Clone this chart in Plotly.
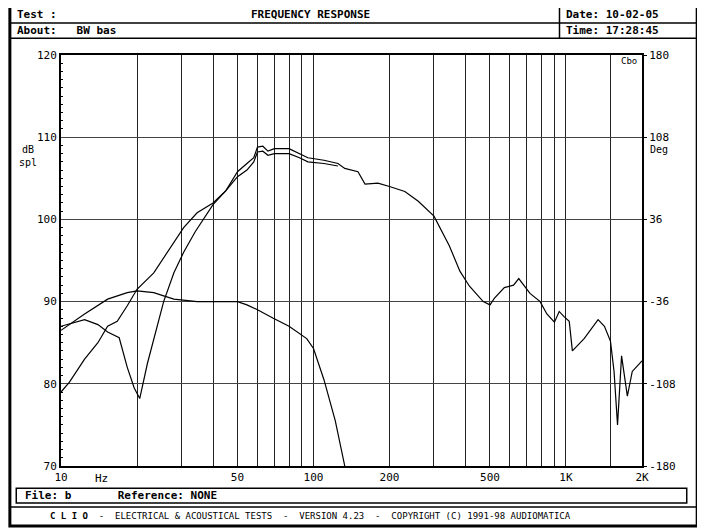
import plotly.graph_objects as go

# Curve 1: flat then falling
f1 = [10, 12.4, 15.3, 18.3, 20, 23.3, 25.5, 28, 34.6, 40, 50, 54.5, 60, 69, 80, 94, 100, 110, 122, 133]
d1 = [86.5, 88.5, 90.3, 91.1, 91.3, 91.1, 90.7, 90.3, 90.0, 90.0, 90.0, 89.6, 89.0, 88.0, 87.0, 85.5, 84.3, 80.5, 75.5, 70]
# Curve 2: dip at 20 Hz, lower of the pair
f2 = [10, 12.4, 14, 15.3, 17, 18.3, 19.5, 20.5, 22, 25.5, 28, 30.6, 34, 36.7, 40, 45, 50, 54.5, 58, 60, 63, 66, 70, 80, 88, 95, 110, 125]
d2 = [87.0, 87.8, 87.2, 86.3, 85.6, 82.0, 79.5, 78.2, 82.5, 90.0, 93.5, 96.0, 98.5, 100.0, 101.8, 103.5, 105.2, 106.0, 107.0, 108.2, 108.3, 107.8, 108.0, 108.0, 107.5, 107.0, 106.8, 106.5]
# Curve 3: starts at 79, upper of the pair, continues as single line
f3 = [10, 10.8, 12.4, 14, 15.3, 16.7, 18.3, 20, 23.3, 27, 30.6, 34.6, 40, 45, 50, 54.5, 58, 60, 63, 66, 70, 80, 88, 95, 110, 125,
      133, 150, 160, 180, 200, 230, 260, 300, 345, 380, 414, 470, 500, 520, 570, 620, 650, 720, 790, 840, 900, 940, 980,
      1030, 1060, 1180, 1340, 1420, 1500, 1550, 1600, 1660, 1750, 1830, 2000]
d3 = [79.0, 80.2, 83.0, 85.0, 87.0, 87.6, 89.5, 91.5, 93.5, 96.5, 99.0, 100.8, 102.0, 103.5, 105.8, 106.8, 107.5, 108.8, 108.9, 108.3, 108.6, 108.6, 108.0, 107.5, 107.2, 106.8,
      106.2, 105.8, 104.3, 104.4, 104.0, 103.4, 102.2, 100.4, 96.8, 93.7, 91.9, 90.0, 89.6, 90.4, 91.7, 92.0, 92.8, 91.0, 90.0, 88.5, 87.5, 88.8, 88.2,
      87.6, 84.0, 85.5, 87.8, 87.0, 85.2, 81.5, 75.0, 83.4, 78.5, 81.5, 82.8]

grid_f = [20, 30, 40, 50, 60, 70, 80, 90, 100, 200, 300, 400, 500, 600, 700, 800, 900, 1000, 1500, 2000]
xtick_vals = [10, 50, 100, 200, 500, 1000, 2000]
xtick_text = ["10", "50", "100", "200", "500", "1K", "2K"]
ytick_vals = [70, 80, 90, 100, 110, 120]
deg_vals = [-180, -108, -36, 36, 108, 180]
deg_text = ["-180", "-108", "-36", "36", "108", "180"]

mono = "DejaVu Sans Mono"
fig = go.Figure()
for f, d in [(f1, d1), (f2, d2), (f3, d3)]:
    fig.add_trace(go.Scatter(x=f, y=d, mode="lines", line=dict(color="black", width=1.2), showlegend=False))
fig.add_trace(go.Scatter(x=[10], y=[0], yaxis="y2", mode="markers", marker=dict(opacity=0), showlegend=False, hoverinfo="skip"))

fig.update_layout(
    width=697, height=524, paper_bgcolor="white", plot_bgcolor="white",
    margin=dict(l=53, r=63, t=47, b=66, autoexpand=False),
    font=dict(family=mono, size=11, color="black"),
    xaxis=dict(type="log", range=[1, 3.30103], tickvals=grid_f + [10], automargin=False,
               ticktext=["" if v not in xtick_vals else xtick_text[xtick_vals.index(v)] for v in grid_f] + ["10"],
               showgrid=True, gridcolor="#222", gridwidth=1, showline=True, linecolor="black", linewidth=2,
               mirror=True, ticks="", zeroline=False),
    yaxis=dict(range=[70, 120], tickvals=ytick_vals, showgrid=True, gridcolor="#444", gridwidth=1, automargin=False,
               showline=True, linecolor="black", linewidth=2, mirror=True, ticks="inside", ticklen=3,
               minor=dict(dtick=1, ticks="inside", ticklen=2, tickcolor="black"), zeroline=False),
    yaxis2=dict(range=[-180, 180], overlaying="y", side="right", tickvals=deg_vals, ticktext=deg_text, automargin=False,
                showgrid=False, zeroline=False, ticks="outside", ticklen=4, tickcolor="black", showline=False),
)

L, R = -0.088, 1.095
shapes = [
    dict(type="rect", xref="paper", yref="paper", x0=L, x1=R, y0=-0.146, y1=1.119, line=dict(color="black", width=3)),
    dict(type="line", xref="paper", yref="paper", x0=L, x1=R, y0=1.078, y1=1.078, line=dict(color="black", width=1.5)),
    dict(type="line", xref="paper", yref="paper", x0=L, x1=R, y0=1.041, y1=1.041, line=dict(color="black", width=1.5)),
    dict(type="line", xref="paper", yref="paper", x0=0.858, x1=0.858, y0=1.041, y1=1.119, line=dict(color="black", width=1.5)),
    dict(type="rect", xref="paper", yref="paper", x0=-0.077, x1=1.077, y0=-0.090, y1=-0.054, line=dict(color="black", width=1.5)),
    dict(type="line", xref="paper", yref="paper", x0=L, x1=R, y0=-0.100, y1=-0.100, line=dict(color="black", width=1.5)),
]
fig.update_layout(shapes=shapes)

def ann(x, y, t, xa="left", size=11, bold=False):
    fig.add_annotation(x=x, y=y, xref="paper", yref="paper", text=("<b>%s</b>" % t) if bold else t,
                       showarrow=False, xanchor=xa, yanchor="middle", font=dict(family=mono, size=size))

ann(-0.08, 1.099, "Test :", bold=True)
ann(0.43, 1.099, "FREQUENCY RESPONSE", xa="center", bold=True)
ann(0.865, 1.099, "Date: 10-02-05", bold=True)
ann(-0.08, 1.06, "About:   BW bas", bold=True)
ann(0.865, 1.06, "Time: 17:28:45", bold=True)
ann(-0.075, 0.755, "dB<br>spl", size=10)
ann(1.01, 0.77, "Deg", size=10)
ann(0.995, 0.985, "Cbo", xa="right", size=9)
ann(0.055, -0.03, "Hz", size=11)
ann(-0.065, -0.072, "File: b       Reference: NONE", bold=True)
ann(0.43, -0.122, "<b>C L I O</b>  -  ELECTRICAL & ACOUSTICAL TESTS  -  VERSION 4.23  -  COPYRIGHT (C) 1991-98 AUDIOMATICA",
    xa="center", size=9)

fig.write_html("out.html")
